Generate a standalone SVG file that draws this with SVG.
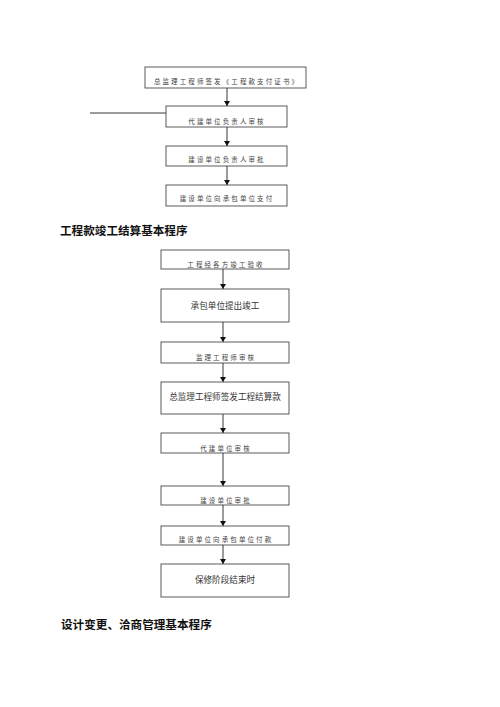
<svg xmlns="http://www.w3.org/2000/svg" width="500" height="707" viewBox="0 0 500 707">
<style>
.box{fill:#fff;stroke:#333;stroke-width:0.8}
.s{font-family:"Noto Sans CJK SC","Noto Sans",sans-serif;font-size:6.5px;letter-spacing:2.1px;fill:#444;text-anchor:middle;dominant-baseline:central}
.l{font-family:"Noto Sans CJK SC","Noto Sans",sans-serif;font-size:8.6px;fill:#333;text-anchor:middle;dominant-baseline:central}
.h{font-family:"Noto Sans CJK SC","Noto Sans",sans-serif;font-size:11.6px;font-weight:bold;fill:#111;dominant-baseline:central}
.c{stroke:#222;stroke-width:0.9;fill:none}
</style>
<defs>
<marker id="ah" markerWidth="6" markerHeight="6" refX="5" refY="3" orient="auto" markerUnits="userSpaceOnUse">
<path d="M0,0 L5,3 L0,6 Z" fill="#111"/>
</marker>
</defs>
<rect width="500" height="707" fill="#fff"/>
<g id="connectors">
<line class="c" x1="227" y1="88" x2="227" y2="106" marker-end="url(#ah)"/>
<line class="c" x1="90" y1="113" x2="166" y2="113"/>
<line class="c" x1="227" y1="127" x2="227" y2="146" marker-end="url(#ah)"/>
<line class="c" x1="227" y1="166" x2="227" y2="185" marker-end="url(#ah)"/>
<line class="c" x1="223" y1="269" x2="223" y2="289" marker-end="url(#ah)"/>
<line class="c" x1="223" y1="322" x2="223" y2="342" marker-end="url(#ah)"/>
<line class="c" x1="223" y1="363" x2="223" y2="382" marker-end="url(#ah)"/>
<line class="c" x1="223" y1="414" x2="223" y2="433" marker-end="url(#ah)"/>
<line class="c" x1="223" y1="453" x2="223" y2="486" marker-end="url(#ah)"/>
<line class="c" x1="223" y1="505" x2="223" y2="526" marker-end="url(#ah)"/>
<line class="c" x1="223" y1="545" x2="223" y2="564" marker-end="url(#ah)"/>
</g>
<g id="n1"><rect class="box" x="145" y="67" width="161" height="21"/><text class="s" x="227" y="81">总监理工程师签发《工程款支付证书》</text></g>
<g id="n2"><rect class="box" x="166" y="106" width="121" height="21"/><text class="s" x="227" y="121">代建单位负责人审核</text></g>
<g id="n3"><rect class="box" x="166" y="146" width="121" height="20"/><text class="s" x="227" y="159">建设单位负责人审批</text></g>
<g id="n4"><rect class="box" x="166" y="185" width="121" height="21"/><text class="s" x="227" y="198">建设单位向承包单位支付</text></g>
<g id="h1"><text class="h" x="60" y="230">工程款竣工结算基本程序</text></g>
<g id="m1"><rect class="box" x="161" y="250" width="128" height="19"/><text class="s" x="226" y="264">工程经各方竣工验收</text></g>
<g id="m2"><rect class="box" x="161" y="289" width="128" height="33"/><text class="l" x="225" y="305">承包单位提出竣工</text></g>
<g id="m3"><rect class="box" x="161" y="342" width="128" height="21"/><text class="s" x="226" y="357">监理工程师审核</text></g>
<g id="m4"><rect class="box" x="161" y="382" width="128" height="32"/><text class="l" x="225" y="396">总监理工程师签发工程结算款</text></g>
<g id="m5"><rect class="box" x="161" y="433" width="128" height="20"/><text class="s" x="226" y="448">代建单位审核</text></g>
<g id="m6"><rect class="box" x="161" y="486" width="128" height="19"/><text class="s" x="226" y="500">建设单位审批</text></g>
<g id="m7"><rect class="box" x="161" y="526" width="128" height="19"/><text class="s" x="226" y="539">建设单位向承包单位付款</text></g>
<g id="m8"><rect class="box" x="161" y="564" width="128" height="33"/><text class="l" x="225" y="579">保修阶段结束时</text></g>
<g id="h2"><text class="h" x="61" y="624">设计变更、洽商管理基本程序</text></g>
</svg>
